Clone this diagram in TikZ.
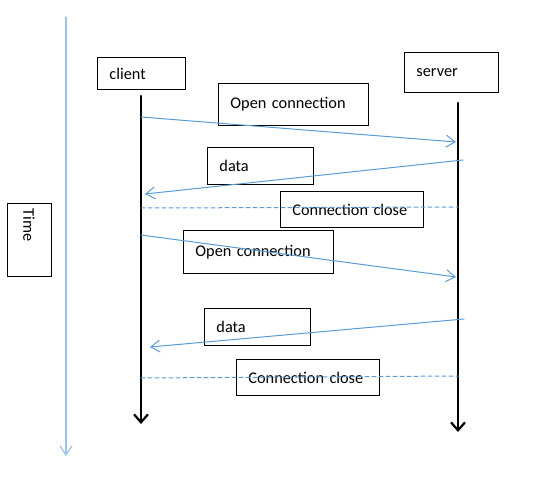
\documentclass[tikz,border=0pt]{standalone}
\usepackage{fontspec}
\setmainfont{Carlito}
\usetikzlibrary{arrows.meta}

\begin{document}
\begin{tikzpicture}
		[x=1pt,y=-1pt,line cap=round,
		%Styles
		lifeline/.style={line width=2.6pt,-{Straight Barb[length=8pt,width=14pt,line width=2.2pt]}},
		message/.style={msgcolor,line width=1pt,-{Straight Barb[length=9pt,width=12pt]}},
		closing/.style={msgcolor,line width=1pt,dash pattern=on 4pt off 3pt},
		time axis/.style={timecolor,line width=1.2pt,-{Straight Barb[length=9pt,width=12pt]}},
		textbox/.style={draw,line width=0.9pt,anchor=north west,inner xsep=12pt,inner ysep=0pt,align=left,font=\fontsize{16.3}{19}\selectfont}
		]
		
		%Colors
		\definecolor{msgcolor}{RGB}{91,155,213}	%messages
		\definecolor{timecolor}{RGB}{157,195,230}	%time axis
		
		\useasboundingbox (0,0) rectangle (540,478);
		
		%Time
		\coordinate (t top) at (66,17);
		\coordinate (t bot) at (66,456);
		\draw[time axis] (t top) -- (t bot);
		\node[textbox,anchor=center,rotate=-90,inner xsep=6pt,minimum width=73,minimum height=44,text width=61pt] (time) at (29,239.5) {Time};
		
		%Parties
		\node[textbox,minimum width=88,minimum height=32,text width=64pt] (client) at (97,57) {client};
		\node[textbox,minimum width=94,minimum height=40,text width=70pt] (server) at (404,52) {server};
		
		\coordinate (c top) at (141,96);
		\coordinate (c bot) at (141,424);
		\coordinate (s top) at (458,103);
		\coordinate (s bot) at (458,432);
		\draw[lifeline] (c top) -- (c bot);
		\draw[lifeline] (s top) -- (s bot);
		
		%Labels
		\node[textbox,minimum width=150,minimum height=42,text width=126pt] (open1) at (218,83) {Open connection};
		\node[textbox,minimum width=106,minimum height=37,text width=82pt] (data1) at (207,147) {data};
		\node[textbox,minimum width=143,minimum height=36,text width=119pt] (close1) at (280,191) {Connection close};
		\node[textbox,minimum width=150,minimum height=43,text width=126pt] (open2) at (183,230) {Open connection};
		\node[textbox,minimum width=106,minimum height=37,text width=82pt] (data2) at (204,308) {data};
		\node[textbox,minimum width=143,minimum height=36,text width=119pt] (close2) at (236,359) {Connection close};
		
		%Messages
		\coordinate (m1 c) at (141,117);
		\coordinate (m1 s) at (456,142);
		\coordinate (m2 s) at (463,160);
		\coordinate (m2 c) at (145,194);
		\coordinate (d1 c) at (141,208);
		\coordinate (d1 s) at (458,207);
		\coordinate (m3 c) at (141,235);
		\coordinate (m3 s) at (456,277);
		\coordinate (m4 s) at (464,319);
		\coordinate (m4 c) at (150,347);
		\coordinate (d2 c) at (141,378);
		\coordinate (d2 s) at (458,376);
		
		\draw[message] (m1 c) -- (m1 s);
		\draw[message] (m2 s) -- (m2 c);
		\draw[closing] (d1 c) -- (d1 s);
		\draw[message] (m3 c) -- (m3 s);
		\draw[message] (m4 s) -- (m4 c);
		\draw[closing] (d2 c) -- (d2 s);
	\end{tikzpicture}
\end{document}
